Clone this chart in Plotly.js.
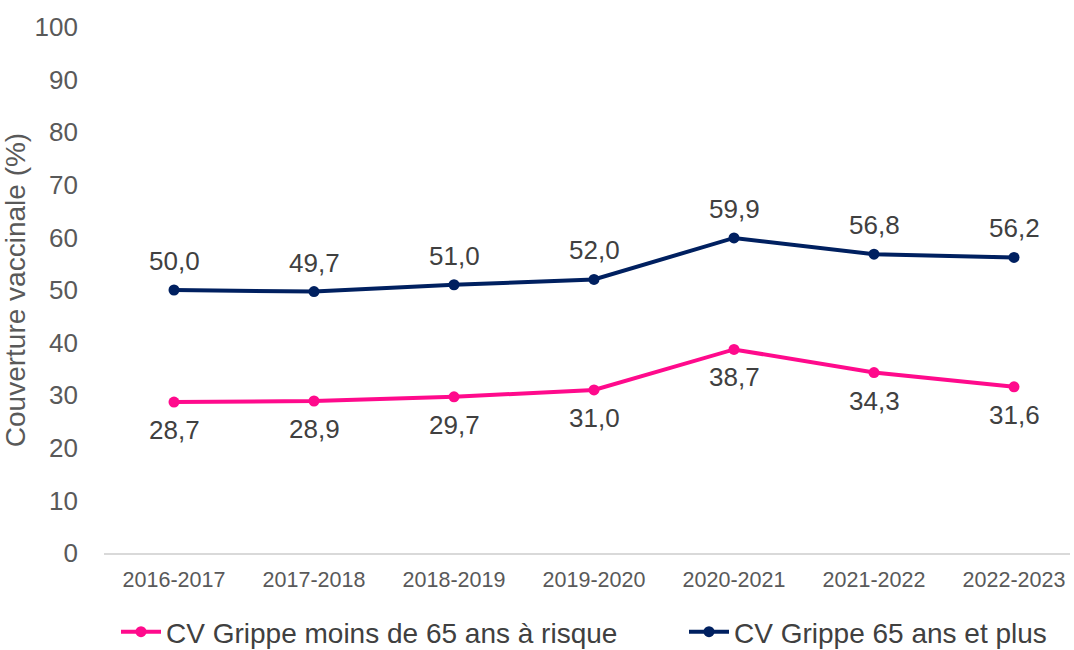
<!DOCTYPE html>
<html>
<head>
<meta charset="utf-8">
<script src="https://cdn.plot.ly/plotly-3.0.1.min.js"></script>
<style>html,body{margin:0;padding:0;background:#fff;}#chart{width:1074px;height:650px;}</style>
</head>
<body>
<div id="chart"></div>
<script>
const categories = ["2016-2017","2017-2018","2018-2019","2019-2020","2020-2021","2021-2022","2022-2023"];
const moins65 = [28.7, 28.9, 29.7, 31.0, 38.7, 34.3, 31.6];
const plus65 = [50.0, 49.7, 51.0, 52.0, 59.9, 56.8, 56.2];
const seriesNames = ["CV Grippe moins de 65 ans à risque", "CV Grippe 65 ans et plus"];
const yTicks = [0,10,20,30,40,50,60,70,80,90,100];

const fmt = v => v.toFixed(1).replace('.', ',');
const font = "Liberation Sans, Arial, sans-serif";
const pink = '#FF0A8C', navy = '#002060';

const traces = [
  {
    x: categories, y: moins65, name: seriesNames[0], type: 'scatter', mode: 'lines+markers',
    line: {color: pink, width: 4}, marker: {color: pink, size: 11}, legend: 'legend', cliponaxis: false
  },
  {
    x: categories, y: plus65, name: seriesNames[1], type: 'scatter', mode: 'lines+markers',
    line: {color: navy, width: 4}, marker: {color: navy, size: 11}, legend: 'legend2', cliponaxis: false
  }
];

const labelFont = {family: font, size: 26, color: '#404040'};
const annotations = [];
categories.forEach((c, i) => {
  annotations.push({x: c, y: plus65[i], xref: 'x', yref: 'y', text: fmt(plus65[i]), showarrow: false,
                    yshift: 29, font: labelFont});
  annotations.push({x: c, y: moins65[i], xref: 'x', yref: 'y', text: fmt(moins65[i]), showarrow: false,
                    yshift: -28, font: labelFont});
});

const legendFont = {family: font, size: 28, color: '#404040'};
const legY = 1 - 632/650;
const layout = {
  width: 1074, height: 650,
  margin: {l: 104, r: 4, t: 27, b: 97, autoexpand: false},
  paper_bgcolor: '#fff', plot_bgcolor: '#fff',
  font: {family: font, color: '#595959'},
  showlegend: true,
  legend: {orientation: 'h', xref: 'container', yref: 'container', x: 116/1074, xanchor: 'left',
           y: legY, yanchor: 'middle', font: legendFont, itemwidth: 40, bgcolor: 'rgba(0,0,0,0)'},
  legend2: {orientation: 'h', xref: 'container', yref: 'container', x: 684/1074, xanchor: 'left',
           y: legY, yanchor: 'middle', font: legendFont, itemwidth: 40, bgcolor: 'rgba(0,0,0,0)'},
  annotations: annotations,
  xaxis: {
    type: 'category', range: [-0.5, 6.4], showgrid: false, zeroline: false,
    showline: true, linecolor: '#d9d9d9', linewidth: 1.5, ticks: '', ticklabelstandoff: 7,
    tickfont: {family: font, size: 21.5, color: '#595959'}
  },
  yaxis: {
    range: [0, 100], tickvals: yTicks, showgrid: false, zeroline: false, showline: false,
    tickfont: {family: font, size: 26, color: '#595959'}, ticks: '', ticklabelstandoff: 25,
    title: {text: 'Couverture vaccinale (%)', font: {family: font, size: 28, color: '#595959'}, standoff: 4}
  }
};

Plotly.newPlot('chart', traces, layout, {displayModeBar: false, staticPlot: true});
</script>
</body>
</html>
